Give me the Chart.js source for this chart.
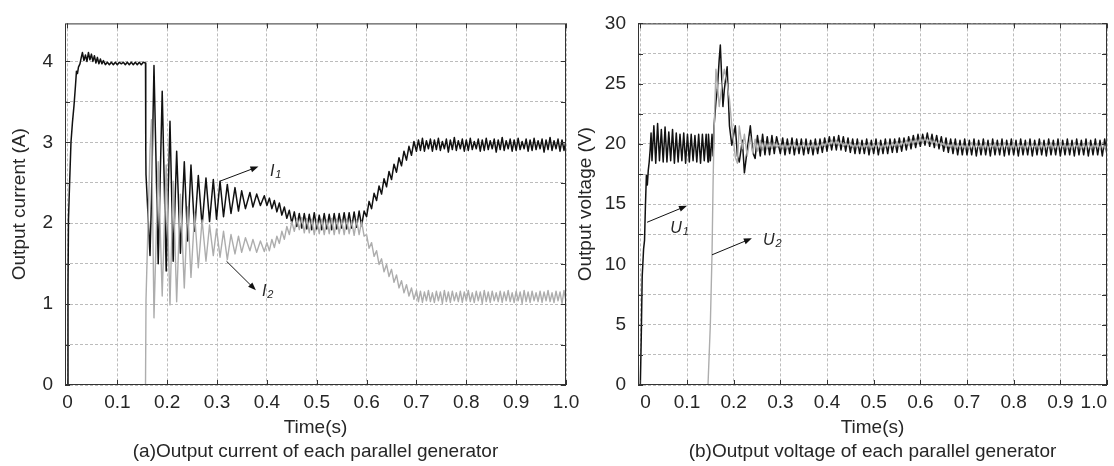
<!DOCTYPE html>
<html>
<head>
<meta charset="utf-8">
<title>Output current and voltage of each parallel generator</title>
<script src="https://cdn.jsdelivr.net/npm/chart.js"></script>
<style>
  html, body { margin: 0; padding: 0; background: #fff; overflow: hidden; }
  canvas { position: absolute; top: 0; }
</style>
</head>
<body>
<canvas id="chartA" width="600" height="466" style="left:0"></canvas>
<canvas id="chartB" width="544" height="466" style="left:570px"></canvas>
<script>
// ---- axis ticks ----
const timeTicks = [0, 0.1, 0.2, 0.3, 0.4, 0.5, 0.6, 0.7, 0.8, 0.9, 1.0];
const timeLabels = ['0', '0.1', '0.2', '0.3', '0.4', '0.5', '0.6', '0.7', '0.8', '0.9', '1.0'];
const currentTicks = [0, 0.5, 1, 1.5, 2, 2.5, 3, 3.5, 4];
const currentLabels = ['0', '', '1', '', '2', '', '3', '', '4'];
const voltageTicks = [0, 2.5, 5, 7.5, 10, 12.5, 15, 17.5, 20, 22.5, 25, 27.5, 30];
const voltageLabels = ['0', '', '5', '', '10', '', '15', '', '20', '', '25', '', '30'];

// ---- (a) output current, time in s ----
const tA = [
  0, 0.001, 0.002, 0.004, 0.007, 0.010, 0.013, 0.016, 0.018, 0.020,
  0.022, 0.025, 0.028, 0.030, 0.033, 0.036, 0.039, 0.042, 0.045, 0.048,
  0.051, 0.054, 0.057, 0.060, 0.063, 0.066, 0.069, 0.072,
  0.076, 0.080, 0.084, 0.088, 0.092, 0.096, 0.100, 0.104, 0.108, 0.112,
  0.116, 0.120, 0.124, 0.128, 0.132, 0.136, 0.140, 0.144, 0.148, 0.152,
  0.1565,
  0.157, 0.1575, 0.1655, 0.1685, 0.1735, 0.182, 0.190, 0.198, 0.2056, 0.212,
  0.219, 0.2265, 0.2343, 0.241, 0.2477, 0.255, 0.2624, 0.270, 0.2778, 0.285,
  0.2925, 0.299, 0.306, 0.313, 0.3206, 0.328, 0.336, 0.343, 0.3494, 0.357,
  0.366, 0.372, 0.3795, 0.387, 0.3948,
  0.400, 0.405, 0.410, 0.415, 0.420, 0.425, 0.430, 0.435, 0.440, 0.445,
  0.450, 0.455, 0.460, 0.465, 0.470, 0.475, 0.480, 0.485, 0.490, 0.495,
  0.500, 0.505, 0.510, 0.515, 0.520, 0.525, 0.530, 0.535, 0.540, 0.545,
  0.550, 0.555, 0.560, 0.565, 0.570, 0.575, 0.580, 0.585, 0.590,
  0.595, 0.600, 0.605, 0.610, 0.615, 0.620, 0.625, 0.630, 0.635, 0.640,
  0.645, 0.650, 0.655, 0.660, 0.665, 0.670, 0.675, 0.680, 0.685, 0.690,
  0.695, 0.700,
  0.704, 0.708, 0.712, 0.716, 0.720, 0.724, 0.728, 0.732, 0.736, 0.740,
  0.744, 0.748, 0.752, 0.756, 0.760, 0.764, 0.768, 0.772, 0.776, 0.780,
  0.784, 0.788, 0.792, 0.796, 0.800, 0.804, 0.808, 0.812, 0.816, 0.820,
  0.824, 0.828, 0.832, 0.836, 0.840, 0.844, 0.848, 0.852, 0.856, 0.860,
  0.864, 0.868, 0.872, 0.876, 0.880, 0.884, 0.888, 0.892, 0.896, 0.900,
  0.904, 0.908, 0.912, 0.916, 0.920, 0.924, 0.928, 0.932, 0.936, 0.940,
  0.944, 0.948, 0.952, 0.956, 0.960, 0.964, 0.968, 0.972, 0.976, 0.980,
  0.984, 0.988, 0.992, 0.996, 1.000
];
const I1 = [
  0, 1.2, 2.05, 2.45, 3.0, 3.25, 3.45, 3.7, 3.88, 3.85,
  3.93, 3.97, 4.06, 4.11, 4.01, 4.08, 4.00, 4.11, 4.02, 4.09,
  4.00, 4.07, 3.98, 4.05, 3.97, 4.03, 3.97, 4.01,
  3.96, 3.99, 3.96, 3.99, 3.96, 3.99, 3.96, 3.99, 3.97, 3.99,
  3.96, 3.99, 3.96, 3.99, 3.96, 3.99, 3.96, 3.99, 3.96, 3.99,
  3.98,
  2.92, 2.6, 1.6, 2.3, 3.95, 1.5, 3.63, 1.41, 3.26, 1.53,
  2.89, 1.63, 2.76, 1.78, 2.72, 1.9, 2.59, 1.97, 2.56, 2.02,
  2.54, 2.05, 2.52, 2.08, 2.48, 2.12, 2.44, 2.15, 2.40, 2.18,
  2.38, 2.2, 2.36, 2.22, 2.34,
  2.22, 2.31, 2.18, 2.28, 2.14, 2.25, 2.10, 2.20, 2.06, 2.16,
  2.00, 2.14, 1.96, 2.12, 1.94, 2.12, 1.93, 2.11, 1.92, 2.13,
  1.93, 2.10, 1.92, 2.12, 1.93, 2.11, 1.92, 2.12, 1.93, 2.12,
  1.94, 2.13, 1.93, 2.13, 1.94, 2.14, 1.95, 2.15, 1.97,
  2.15, 2.08, 2.27, 2.18, 2.37, 2.28, 2.46, 2.36, 2.55, 2.45,
  2.64, 2.54, 2.73, 2.63, 2.81, 2.71, 2.89, 2.78, 2.95, 2.84,
  3.01, 2.89,
  3.03, 2.90, 3.05, 2.89, 3.02, 2.92, 3.04, 2.89, 3.03, 2.91,
  3.05, 2.90, 3.01, 2.92, 3.04, 2.88, 3.03, 2.91, 3.06, 2.90,
  3.02, 2.92, 3.04, 2.89, 3.03, 2.90, 3.05, 2.91, 3.01, 2.92,
  3.04, 2.89, 3.03, 2.90, 3.05, 2.91, 3.02, 2.92, 3.04, 2.88,
  3.03, 2.91, 3.06, 2.90, 3.02, 2.92, 3.04, 2.89, 3.03, 2.90,
  3.05, 2.91, 3.01, 2.92, 3.04, 2.89, 3.03, 2.90, 3.05, 2.91,
  3.02, 2.92, 3.04, 2.88, 3.03, 2.91, 3.06, 2.90, 3.02, 2.92,
  3.04, 2.89, 3.03, 2.90, 3.02
];
const I2 = [
  0, 0, 0, 0, 0, 0, 0, 0, 0, 0,
  0, 0, 0, 0, 0, 0, 0, 0, 0, 0,
  0, 0, 0, 0, 0, 0, 0, 0,
  0, 0, 0, 0, 0, 0, 0, 0, 0, 0,
  0, 0, 0, 0, 0, 0, 0, 0, 0, 0,
  0,
  0, 1.05, 2.9, 3.28, 0.83, 2.76, 1.1, 2.72, 0.99, 2.52,
  1.03, 2.36, 1.2, 2.2, 1.33, 2.12, 1.45, 2.04, 1.53, 1.98,
  1.6, 1.93, 1.58, 1.9, 1.55, 1.86, 1.62, 1.84, 1.64, 1.82,
  1.66, 1.8, 1.64, 1.78, 1.65,
  1.76, 1.66, 1.80, 1.70, 1.84, 1.75, 1.90, 1.80, 1.96, 1.86,
  2.02, 1.90, 2.06, 1.92, 2.07, 1.88, 2.06, 1.88, 2.05, 1.86,
  2.04, 1.87, 2.05, 1.86, 2.04, 1.87, 2.06, 1.86, 2.05, 1.87,
  2.04, 1.86, 2.05, 1.87, 2.03, 1.85, 2.04, 1.86, 2.02,
  1.84, 1.86, 1.69, 1.76, 1.59, 1.66, 1.49, 1.56, 1.40, 1.49,
  1.34, 1.43, 1.27, 1.36, 1.20, 1.29, 1.14, 1.24, 1.10, 1.20,
  1.06, 1.17,
  1.03, 1.16, 1.02, 1.15, 1.04, 1.17, 1.03, 1.14, 1.02, 1.16,
  1.04, 1.15, 1.01, 1.17, 1.03, 1.15, 1.02, 1.16, 1.04, 1.14,
  1.03, 1.16, 1.02, 1.15, 1.04, 1.17, 1.03, 1.14, 1.02, 1.16,
  1.04, 1.15, 1.01, 1.17, 1.03, 1.15, 1.02, 1.16, 1.04, 1.14,
  1.03, 1.16, 1.02, 1.15, 1.04, 1.17, 1.03, 1.14, 1.02, 1.16,
  1.04, 1.15, 1.01, 1.17, 1.03, 1.15, 1.02, 1.16, 1.04, 1.14,
  1.03, 1.16, 1.02, 1.15, 1.04, 1.17, 1.03, 1.14, 1.02, 1.16,
  1.04, 1.15, 1.01, 1.17, 1.03
];

// ---- (b) output voltage, time in s ----
const tB = [
  0, 0.002, 0.004, 0.007, 0.009, 0.011, 0.013, 0.015, 0.017, 0.019,
  0.021, 0.023,
  0.025, 0.029, 0.033, 0.037, 0.041, 0.045, 0.049, 0.053, 0.057, 0.061,
  0.065, 0.069, 0.073, 0.077, 0.081, 0.085, 0.089, 0.093, 0.097, 0.101,
  0.105, 0.109, 0.113, 0.117, 0.121, 0.125, 0.129, 0.133, 0.137, 0.141,
  0.145,
  0.146, 0.150, 0.1536, 0.156, 0.158, 0.162, 0.165, 0.169, 0.1714, 0.177,
  0.180, 0.186, 0.191, 0.196, 0.2035, 0.208, 0.212, 0.2186, 0.223, 0.229,
  0.2357, 0.241, 0.246, 0.251, 0.257, 0.262, 0.267, 0.272, 0.277, 0.282,
  0.287, 0.292,
  0.300, 0.305, 0.310, 0.315, 0.320, 0.325, 0.330, 0.335, 0.340, 0.345,
  0.350, 0.355, 0.360, 0.365, 0.370, 0.375, 0.380, 0.385, 0.390, 0.395,
  0.400, 0.405, 0.410, 0.415, 0.420, 0.425, 0.430, 0.435, 0.440, 0.445,
  0.450, 0.455, 0.460, 0.465, 0.470, 0.475, 0.480, 0.485, 0.490, 0.495,
  0.500, 0.505, 0.510, 0.515, 0.520, 0.525, 0.530, 0.535, 0.540, 0.545,
  0.550, 0.555, 0.560, 0.565, 0.570, 0.575, 0.580, 0.585, 0.590, 0.595,
  0.600, 0.605, 0.610, 0.615, 0.620, 0.625, 0.630, 0.635, 0.640, 0.645,
  0.650, 0.655, 0.660, 0.665, 0.670, 0.675, 0.680, 0.685, 0.690, 0.695,
  0.700, 0.705, 0.710, 0.715, 0.720, 0.725, 0.730, 0.735, 0.740, 0.745,
  0.750, 0.755, 0.760, 0.765, 0.770, 0.775, 0.780, 0.785, 0.790, 0.795,
  0.800, 0.805, 0.810, 0.815, 0.820, 0.825, 0.830, 0.835, 0.840, 0.845,
  0.850, 0.855, 0.860, 0.865, 0.870, 0.875, 0.880, 0.885, 0.890, 0.895,
  0.900, 0.905, 0.910, 0.915, 0.920, 0.925, 0.930, 0.935, 0.940, 0.945,
  0.950, 0.955, 0.960, 0.965, 0.970, 0.975, 0.980, 0.985, 0.990, 0.995,
  1.000
];
const U1 = [
  0, 4, 9, 11.3, 12.0, 15.0, 17.4, 16.6, 17.8, 18.5,
  19.5, 20.9,
  18.6, 21.5, 18.4, 21.7, 18.6, 21.2, 18.5, 21.4, 18.5, 21.0,
  18.6, 21.2, 18.4, 20.9, 18.5, 20.8, 18.6, 20.9, 18.4, 20.8,
  18.5, 20.8, 18.6, 20.7, 18.5, 20.8, 18.4, 20.8, 18.6, 20.8,
  18.5,
  20.8, 18.6, 20.8, 19.0, 21.5, 23.5, 24.5, 27.0, 28.2, 23.1,
  24.5, 26.4, 21.5, 19.9, 21.5, 19.0, 18.5, 20.3, 17.6, 19.5,
  21.5, 19.3, 18.8, 20.7, 19.0, 20.8, 19.1, 20.6, 19.1, 20.7,
  19.2, 20.6,
  19.2, 20.5, 19.1, 20.4, 19.2, 20.5, 19.1, 20.4, 19.2, 20.4,
  19.1, 20.4, 19.2, 20.3, 19.1, 20.4, 19.2, 20.4, 19.3, 20.5,
  19.4, 20.6, 19.5, 20.6, 19.5, 20.7, 19.5, 20.6, 19.4, 20.5,
  19.3, 20.4, 19.2, 20.4, 19.2, 20.3, 19.2, 20.4, 19.1, 20.3,
  19.2, 20.4, 19.1, 20.3, 19.2, 20.4, 19.2, 20.4, 19.3, 20.4,
  19.3, 20.5, 19.4, 20.5, 19.5, 20.6, 19.6, 20.7, 19.7, 20.8,
  19.8, 20.8, 19.9, 20.9, 19.8, 20.8, 19.7, 20.7, 19.6, 20.6,
  19.4, 20.5, 19.3, 20.4, 19.2, 20.4, 19.1, 20.3, 19.1, 20.4,
  19.1, 20.3, 19.1, 20.4, 19.0, 20.3, 19.1, 20.4, 19.1, 20.3,
  19.0, 20.4, 19.1, 20.3, 19.1, 20.4, 19.0, 20.3, 19.1, 20.4,
  19.1, 20.3, 19.0, 20.4, 19.1, 20.3, 19.1, 20.4, 19.0, 20.3,
  19.1, 20.4, 19.1, 20.3, 19.0, 20.4, 19.1, 20.3, 19.1, 20.4,
  19.0, 20.3, 19.1, 20.4, 19.1, 20.3, 19.0, 20.4, 19.1, 20.3,
  19.1, 20.4, 19.0, 20.3, 19.1, 20.4, 19.1, 20.3, 19.0, 20.4,
  19.1
];
const U2 = [
  0, 0, 0, 0, 0, 0, 0, 0, 0, 0,
  0, 0,
  0, 0, 0, 0, 0, 0, 0, 0, 0, 0,
  0, 0, 0, 0, 0, 0, 0, 0, 0, 0,
  0, 0, 0, 0, 0, 0, 0, 0, 0, 0,
  0,
  0, 5, 10.8, 17, 21, 26.2, 25.0, 23.1, 23.8, 25.5,
  26.2, 25.0, 23.7, 21.5, 18.9, 18.4, 21.5, 19.6, 20.8, 19.0,
  20.6, 19.2, 20.4, 19.4, 20.3, 19.5, 20.2, 19.6, 20.1, 19.6,
  20.1, 19.7,
  20.0, 19.6, 20.1, 19.6, 20.0, 19.7, 20.1, 19.6, 20.0, 19.7,
  20.1, 19.6, 20.0, 19.7, 20.1, 19.6, 20.0, 19.7, 20.1, 19.8,
  20.2, 19.9, 20.3, 19.9, 20.3, 19.9, 20.2, 19.8, 20.1, 19.8,
  20.1, 19.7, 20.0, 19.7, 20.1, 19.6, 20.0, 19.7, 20.1, 19.6,
  20.0, 19.7, 20.1, 19.6, 20.0, 19.7, 20.1, 19.7, 20.1, 19.8,
  20.2, 19.8, 20.2, 19.9, 20.3, 19.9, 20.4, 20.0, 20.4, 20.0,
  20.5, 20.1, 20.5, 20.1, 20.4, 20.0, 20.3, 19.9, 20.2, 19.9,
  20.1, 19.7, 20.0, 19.7, 20.1, 19.6, 20.0, 19.7, 20.0, 19.6,
  20.0, 19.6, 20.1, 19.6, 20.0, 19.7, 20.0, 19.6, 20.1, 19.6,
  20.0, 19.7, 20.1, 19.6, 20.0, 19.6, 20.1, 19.7, 20.0, 19.6,
  20.1, 19.6, 20.0, 19.7, 20.0, 19.6, 20.1, 19.6, 20.0, 19.7,
  20.0, 19.6, 20.1, 19.6, 20.0, 19.7, 20.1, 19.6, 20.0, 19.6,
  20.1, 19.7, 20.0, 19.6, 20.0, 19.6, 20.1, 19.7, 20.0, 19.6,
  20.0, 19.6, 20.1, 19.6, 20.0, 19.7, 20.0, 19.6, 20.1, 19.6,
  20.0
];

const FAMILY = '"Liberation Sans", Arial, Helvetica, sans-serif';
const INK = '#262626';
const BLACK = '#111111';
const GREY = '#adadad';

function series(t, v) {
  if (t.length !== v.length) throw new Error('length mismatch ' + t.length + ' / ' + v.length);
  return t.map((x, i) => ({ x: x, y: v[i] }));
}

// box round the plot, inward ticks on all sides, arrows with italic labels
const frameAndNotes = {
  id: 'frameAndNotes',
  afterDraw(chart, args, opts) {
    const { ctx, chartArea: a } = chart;
    const xs = chart.scales.x, ys = chart.scales.y;
    ctx.save();
    ctx.strokeStyle = '#333';
    ctx.lineWidth = 1;
    ctx.strokeRect(a.left + 0.5, a.top + 0.5, a.right - a.left - 1, a.bottom - a.top - 1);
    ctx.beginPath();
    xs.ticks.forEach(t => {
      const px = Math.round(xs.getPixelForValue(t.value)) + 0.5;
      ctx.moveTo(px, a.bottom); ctx.lineTo(px, a.bottom - 5);
      ctx.moveTo(px, a.top); ctx.lineTo(px, a.top + 5);
    });
    ys.ticks.forEach(t => {
      const py = Math.round(ys.getPixelForValue(t.value)) + 0.5;
      ctx.moveTo(a.left, py); ctx.lineTo(a.left + 5, py);
      ctx.moveTo(a.right, py); ctx.lineTo(a.right - 5, py);
    });
    ctx.stroke();

    ctx.strokeStyle = '#111';
    ctx.fillStyle = '#111';
    (opts.notes || []).forEach(n => {
      const x1 = xs.getPixelForValue(n.from[0]), y1 = ys.getPixelForValue(n.from[1]);
      const x2 = xs.getPixelForValue(n.to[0]), y2 = ys.getPixelForValue(n.to[1]);
      const ang = Math.atan2(y2 - y1, x2 - x1);
      ctx.lineWidth = 1;
      ctx.beginPath();
      ctx.moveTo(x1, y1);
      ctx.lineTo(x2 - 6 * Math.cos(ang), y2 - 6 * Math.sin(ang));
      ctx.stroke();
      ctx.beginPath();
      ctx.moveTo(x2, y2);
      ctx.lineTo(x2 - 8 * Math.cos(ang) + 3 * Math.sin(ang), y2 - 8 * Math.sin(ang) - 3 * Math.cos(ang));
      ctx.lineTo(x2 - 8 * Math.cos(ang) - 3 * Math.sin(ang), y2 - 8 * Math.sin(ang) + 3 * Math.cos(ang));
      ctx.closePath();
      ctx.fill();

      const lx = xs.getPixelForValue(n.at[0]), ly = ys.getPixelForValue(n.at[1]);
      ctx.fillStyle = INK;
      ctx.textBaseline = 'alphabetic';
      ctx.textAlign = 'left';
      ctx.font = 'italic 16px ' + FAMILY;
      ctx.fillText(n.text, lx, ly);
      const w = ctx.measureText(n.text).width;
      ctx.font = 'italic 11px ' + FAMILY;
      ctx.fillText(n.sub, lx + w + 1, ly + 2);
      ctx.fillStyle = '#111';
    });
    ctx.restore();
  }
};

function makeChart(id, cfg) {
  const font = { family: FAMILY, size: 19 };
  return new Chart(document.getElementById(id), {
    type: 'line',
    data: {
      datasets: [
        { label: cfg.names[1], data: cfg.second, borderColor: GREY, borderWidth: 1.4, order: 0 },
        { label: cfg.names[0], data: cfg.first, borderColor: BLACK, borderWidth: 1.5, order: 1 }
      ]
    },
    options: {
      responsive: false,
      animation: false,
      devicePixelRatio: 1,
      layout: { padding: { top: 15, right: cfg.padRight, left: 0, bottom: 0 } },
      elements: {
        point: { radius: 0 },
        line: { tension: 0, borderJoinStyle: 'round', fill: false }
      },
      plugins: {
        legend: { display: false },
        tooltip: { enabled: false },
        frameAndNotes: { notes: cfg.notes }
      },
      scales: {
        x: {
          type: 'linear',
          min: -0.005,
          max: 1.0,
          afterBuildTicks: s => { s.ticks = timeTicks.map(v => ({ value: v })); },
          afterFit: s => { s.height = 81; },
          grid: { color: '#bcbcbc', lineWidth: 1, drawTicks: false },
          border: { display: false, dash: [3, 2] },
          ticks: {
            font: font, color: INK, padding: 6, maxRotation: 0, autoSkip: false,
            align: cfg.tickAlign,
            callback: (v, i) => timeLabels[i]
          },
          title: {
            display: true,
            text: ['Time(s)', cfg.caption],
            font: { family: FAMILY, size: 19, lineHeight: 1.26 },
            color: INK,
            padding: { top: 0, bottom: 2 }
          }
        },
        y: {
          type: 'linear',
          min: cfg.yMin,
          max: cfg.yMax,
          afterBuildTicks: s => { s.ticks = cfg.yTicks.map(v => ({ value: v })); },
          afterFit: s => { s.width = cfg.yWidth; },
          grid: { color: '#bcbcbc', lineWidth: 1, drawTicks: false },
          border: { display: false, dash: [3, 2] },
          ticks: {
            font: font, color: INK, padding: 12, autoSkip: false,
            callback: (v, i) => cfg.yLabels[i]
          },
          title: {
            display: true,
            text: cfg.yTitle,
            font: font,
            color: INK,
            padding: { top: cfg.yTitlePad, bottom: 0 }
          }
        }
      }
    },
    plugins: [frameAndNotes]
  });
}

makeChart('chartA', {
  names: ['I1', 'I2'],
  first: series(tA, I1),
  second: series(tA, I2),
  yMin: 0, yMax: 4.47,
  yTicks: currentTicks, yLabels: currentLabels,
  yTitle: 'Output current (A)',
  caption: '(a)Output current of each parallel generator',
  yWidth: 65, yTitlePad: 8, padRight: 34, tickAlign: 'center',
  notes: [
    { from: [0.306, 2.52], to: [0.383, 2.70], text: 'I', sub: '1', at: [0.406, 2.58] },
    { from: [0.319, 1.53], to: [0.378, 1.17], text: 'I', sub: '2', at: [0.39, 1.10] }
  ]
});

makeChart('chartB', {
  names: ['U1', 'U2'],
  first: series(tB, U1),
  second: series(tB, U2),
  yMin: 0, yMax: 30,
  yTicks: voltageTicks, yLabels: voltageLabels,
  yTitle: 'Output voltage (V)',
  caption: '(b)Output voltage of each parallel generator',
  yWidth: 68, yTitlePad: 4, padRight: 7, tickAlign: 'inner',
  notes: [
    { from: [0.0144, 13.5], to: [0.1, 14.87], text: 'U', sub: '1', at: [0.064, 12.57] },
    { from: [0.1536, 10.8], to: [0.239, 12.17], text: 'U', sub: '2', at: [0.263, 11.62] }
  ]
});
</script>
</body>
</html>
